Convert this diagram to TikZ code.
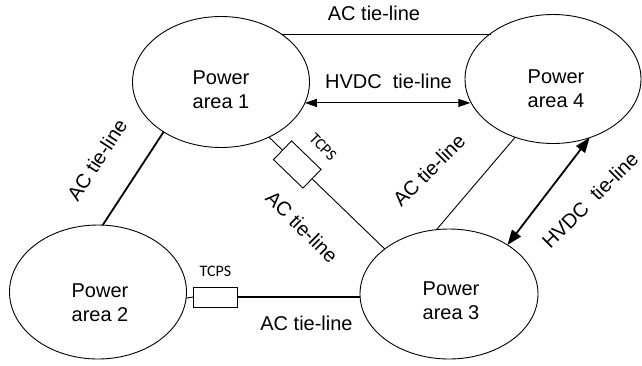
\documentclass[tikz,border=0pt]{standalone}
\usepackage{fontspec}
\setmainfont{Liberation Sans}
\newfontfamily\tcpsfont{Carlito}
\usetikzlibrary{arrows.meta,shapes.geometric}
\tikzset{
  area/.style={draw, ellipse, line width=0.9pt, minimum width=177pt, minimum height=131pt, inner sep=0pt, outer sep=0pt},
  areatext/.style={align=center, font=\fontsize{20}{24}\selectfont, inner sep=0pt},
  lbl/.style={font=\fontsize{20}{24}\selectfont, inner sep=0pt},
  tlbl/.style={font=\tcpsfont\fontsize{16}{18}\selectfont, inner sep=0pt},
  thickline/.style={line width=1.8pt},
  thinline/.style={line width=0.9pt},
  tcpsbox/.style={draw, fill=white, line width=0.9pt, rectangle, inner sep=0pt, outer sep=0pt},
  hvdcthin/.style={line width=1.1pt, {Triangle[length=12pt,width=8pt]}-{Triangle[length=12pt,width=8pt]}},
  hvdcthick/.style={line width=1.8pt, {Triangle[length=15pt,width=11pt]}-{Triangle[length=15pt,width=11pt]}},
}
\begin{document}
\begin{tikzpicture}[x=1pt,y=-1pt]
\useasboundingbox (0,0) rectangle (642,365);
% areas
\node[area] (a1) at (221,82) {};
\node[area, minimum height=134pt] (a2) at (98,292) {};
\node[area, minimum width=178pt, minimum height=130pt] (a3) at (449,294) {};
\node[area, minimum width=176pt, minimum height=129pt] (a4) at (553,79) {};
\node[areatext] (t1) at (221,90) {Power\\area 1};
\node[areatext] (t2) at (100,303) {Power\\area 2};
\node[areatext] (t3) at (451,301) {Power\\area 3};
\node[areatext] (t4) at (556,89) {Power\\area 4};
% 1-4 AC
\draw[thickline] (a1.38.6) -- (a1.38.6 -| a4.144.5);
\node[lbl] (l14) at (374,13.5) {AC tie-line};
% 1-4 HVDC
\draw[hvdcthin] (a1.346.65) -- (a1.346.65 -| a4.195.63);
\node[lbl] (h14) at (388.5,81) {HVDC\ \ tie-line};
% 1-2 AC
\draw[thickline] (a1.221.8) -- (a2.86.5);
\node[lbl, rotate=57] (l12) at (97,160) {AC tie-line};
% 1-3 AC via TCPS
\draw[thinline] (a1.311.7) -- node[tcpsbox, sloped, pos=0.245, minimum width=41pt, minimum height=26pt] (b1) {} (a3.145.7);
\node[tlbl, rotate=-46] (tc1) at (323,147) {TCPS};
\node[lbl, rotate=-45] (l13) at (302,227) {AC tie-line};
% 4-3 AC
\draw[thinline] (a4.237) -- (a3.101.3);
\node[lbl, rotate=45] (l43) at (429,170) {AC tie-line};
% 4-3 HVDC
\draw[hvdcthick] (a4.302.6) -- (a3.40.8);
\node[lbl, rotate=45] (h43) at (590,200) {HVDC\ \ tie-line};
% 2-3 AC via TCPS
\node[tcpsbox, minimum width=44pt, minimum height=20pt] (b2) at (215,297) {};
\draw[thinline] (a2.356.76) -- (b2.west);
\draw[thickline] (b2.east) -- (b2.east -| a3.181.93);
\node[tlbl] (tc2) at (215.5,271.5) {TCPS};
\node[lbl] (l23) at (306.5,323.5) {AC tie-line};
\end{tikzpicture}
\end{document}
